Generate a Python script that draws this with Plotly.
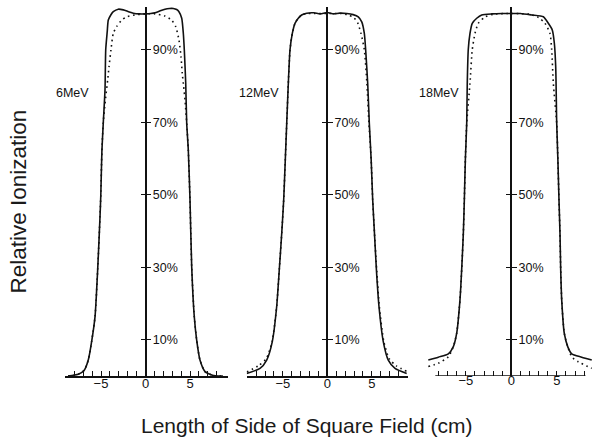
import plotly.graph_objects as go

# ---- beam profiles: off-axis distance (cm) and relative ionization (%) ----
energies = ["6MeV", "12MeV", "18MeV"]

x_6_meas = [-8.7, -7.55, -6.88, -6.43, -6.04, -5.67, -5.37, -5.11, -5.02, -4.9, -4.74, -4.55,
            -4.47, -4.3, -4.18, -3.9, -3.62, -3.06, -2.49, -1.9, -1.37, -0.7, 0, 0.6, 1.07, 1.6,
            2.19, 2.7, 3.12, 3.5, 3.76, 4.07, 4.25, 4.36, 4.52, 4.63, 4.81, 5.0, 5.19, 5.48,
            5.75, 6.12, 6.69, 7.44, 8.15, 8.7]
y_6_meas = [0, 0.5, 1.6, 4.4, 9.7, 16.4, 29.5, 44, 50, 62, 70, 79,
            90, 95, 98.2, 99.6, 100.5, 101.2, 101, 100.5, 100.1, 99.9, 99.9, 100.0, 100.2, 100.7,
            101.2, 101.4, 101.4, 101.1, 100.5, 98.7, 94.5, 90, 80.7, 69.7, 62.3, 48.6, 30.2, 16.4,
            9.9, 4.4, 1.2, 0.3, 0, 0]
x_6_calc = [-8.7, -7.55, -6.88, -6.43, -6.04, -5.67, -5.37, -5.11, -5.02, -4.9, -4.74, -4.47,
            -4.25, -4.1, -3.88, -3.62, -3.24, -2.67, -2.11, -1.18, 0, 1.07, 2.19, 2.94, 3.39,
            3.76, 3.99, 4.13, 4.29, 4.44, 4.63, 4.81, 5.0, 5.19, 5.48, 5.75, 6.12, 6.69, 7.44,
            8.15, 8.7]
y_6_calc = [0, 0.5, 1.6, 4.4, 9.7, 16.4, 29.5, 44, 50, 62, 70, 77,
            81.7, 85.3, 90, 94.5, 96.4, 98.2, 99.1, 99.6, 99.9, 99.9, 99.3, 98.2, 96.4,
            92.7, 88, 83.5, 79.8, 76.1, 69.7, 62.3, 48.6, 30.2, 16.4, 9.9, 4.4, 1.2, 0.3,
            0, 0]

x_12_meas = [-9.06, -7.56, -6.81, -6.18, -5.69, -5.39, -5.12, -4.9, -4.72, -4.56, -4.38, -4.19,
             -3.93, -3.63, -3.26, -2.88, -2.31, -1.5, -0.8, 0, 0.7, 1.4, 2.2, 2.9, 3.48, 3.87,
             4.16, 4.31, 4.54, 4.72, 4.93, 5.1, 5.3, 5.52, 5.81, 6.29, 6.85, 7.61, 8.92]
y_12_meas = [0.7, 2.1, 4.4, 9.5, 19.1, 29.5, 39.4, 48.6, 59.6, 69.7, 80.7, 90,
             94.5, 97.3, 98.7, 99.6, 100.1, 100.2, 99.9, 100.3, 99.9, 100.1, 100.0, 99.7, 99.1, 97.7,
             94.5, 90, 80.7, 69.7, 59.6, 48.6, 39.4, 29.2, 19.1, 9.5, 4.4, 2.1, 0.7]
x_12_calc = [-9.06, -7.75, -6.85, -6.2, -5.69, -5.39, -5.12, -4.9, -4.72, -4.56, -4.38, -4.19,
             -3.93, -3.63, -3.26, -2.88, -2.31, -1.5, 0, 1.5, 2.4, 3.0, 3.4, 3.79, 4.16, 4.45,
             4.68, 4.93, 5.1, 5.3, 5.55, 5.85, 6.35, 6.95, 7.75, 9.0]
y_12_calc = [1.1, 2.8, 4.8, 9.5, 19.1, 29.5, 39.4, 48.6, 59.6, 69.7, 80.7, 90,
             94.5, 97.3, 98.7, 99.6, 100, 100, 100, 100, 99.6, 98.8, 97.5, 94.5, 90, 80.7,
             69.7, 59.6, 48.6, 39.4, 29.2, 19.1, 9.5, 4.8, 2.8, 1.2]

x_18_meas = [-9.12, -8.02, -6.92, -6.37, -6.0, -5.64, -5.45, -5.27, -5.16, -5.05, -4.9, -4.84,
             -4.73, -4.54, -4.29, -3.8, -3.25, -2.15, -1.0, 0, 1.0, 2.24, 3.52, 4.07, 4.51, 4.73,
             4.88, 4.99, 5.12, 5.24, 5.35, 5.43, 5.54, 5.82, 6.2, 6.64, 7.74, 8.84]
y_18_meas = [4.4, 5.2, 6.1, 8.1, 11.8, 21, 29.5, 39.4, 48.6, 59.6, 69.7, 80.7,
             90, 94.5, 97.3, 98.7, 99.6, 99.9, 100, 100, 100, 99.6, 99.1, 97.3, 95.4, 91.8,
             85.3, 69.7, 59.6, 48.6, 39.4, 29.2, 21, 11.8, 8.1, 6.1, 5.2, 4.4]
x_18_calc = [-9.12, -8.02, -6.92, -6.37, -6.0, -5.64, -5.45, -5.27, -5.16, -5.05, -4.9, -4.54,
             -4.29, -3.99, -3.63, -2.92, -2.0, 0, 2.0, 3.0, 3.7, 4.25, 4.44, 4.62, 4.99, 5.12,
             5.24, 5.35, 5.43, 5.54, 5.82, 6.2, 6.64, 7.36, 8.84]
y_18_calc = [2.6, 3.5, 5.3, 8.1, 11.8, 21, 29.5, 39.4, 48.6, 59.6, 69.7, 80.7,
             90, 94.5, 97.3, 99, 99.8, 100, 99.8, 98.9, 97.3, 94.5, 90, 80.7, 69.7, 59.6,
             48.6, 39.4, 29.2, 21, 11.8, 8.1, 5.3, 3.9, 2.1]

y_tick_vals = [10, 30, 50, 70, 90]
y_tick_text = ["10%", "30%", "50%", "70%", "90%"]
x_major_ticks = [-5, 0, 5]
x_minor_ticks = list(range(-8, 9))

profiles = [
    (x_6_meas, y_6_meas, x_6_calc, y_6_calc),
    (x_12_meas, y_12_meas, x_12_calc, y_12_calc),
    (x_18_meas, y_18_meas, x_18_calc, y_18_calc),
]

# ---- page geometry (pixels) ----
W, H = 601, 440
Y_BASE, Y_TOP = 376, 7          # pixel rows of 0 % and top of each panel
Y_RANGE = [0, 101.8]
# (left px, right px, px of x=0, px per cm)
panels = [(65, 228, 145.5, 8.9), (246.7, 408.3, 327.3, 8.9), (428, 592, 511.3, 9.1)]

def px(x):
    return x / W

def py(y):
    return 1 - y / H

FONT = "Liberation Sans, Arial, sans-serif"
INK = "#111111"

fig = go.Figure()
layout = dict(
    width=W, height=H, autosize=False,
    margin=dict(l=0, r=0, t=0, b=0),
    paper_bgcolor="white", plot_bgcolor="rgba(0,0,0,0)",
    showlegend=False,
    font=dict(family=FONT, size=12.5, color=INK),
    annotations=[], shapes=[],
)

for i, ((xm, ym, xc, yc), (left, right, zero, scale)) in enumerate(zip(profiles, panels)):
    n = i + 1
    xa = "x" if n == 1 else f"x{n}"
    ya = "y" if n == 1 else f"y{n}"
    ya_left = f"y{n + 3}"
    xr = [(left - zero) / scale, (right - zero) / scale]
    draw_base_as_shape = (n == 3)

    fig.add_trace(go.Scatter(x=xm, y=ym, mode="lines", xaxis=xa, yaxis=ya,
                             line=dict(color=INK, width=1.6, shape="spline", smoothing=0.6)))
    fig.add_trace(go.Scatter(x=xc, y=yc, mode="lines", xaxis=xa, yaxis=ya,
                             line=dict(color=INK, width=1.6, dash="1.6px,3.6px",
                                       shape="spline", smoothing=0.6)))
    # empty trace so the left-hand tick half of the axis is drawn
    fig.add_trace(go.Scatter(x=[None], y=[None], xaxis=xa, yaxis=ya_left,
                             showlegend=False, hoverinfo="skip"))

    layout[("xaxis" if n == 1 else f"xaxis{n}")] = dict(
        domain=[px(left), px(right)], range=xr, anchor=ya,
        showgrid=False, zeroline=False,
        showline=not draw_base_as_shape, linecolor=INK, linewidth=1.5,
        tickmode="array", tickvals=x_major_ticks, ticktext=["\u22125", "0", "5"],
        ticks="inside", ticklen=5, tickwidth=1.2, tickcolor=INK,
        minor=dict(tickmode="array", tickvals=x_minor_ticks, ticks="inside",
                   ticklen=5, tickwidth=1.2, tickcolor=INK),
        ticklabelstandoff=-5,
        tickfont=dict(family=FONT, size=13, color=INK),
    )
    ypos = px(zero)
    common_y = dict(
        domain=[py(Y_BASE), py(Y_TOP)], range=Y_RANGE,
        anchor="free", position=ypos,
        showgrid=False, zeroline=False,
        tickmode="array", tickvals=y_tick_vals,
        ticks="outside", ticklen=5, tickwidth=1.4, tickcolor=INK,
    )
    layout[("yaxis" if n == 1 else f"yaxis{n}")] = dict(
        common_y, side="right", ticktext=y_tick_text,
        showline=True, linecolor=INK, linewidth=1.6,
        ticklabelstandoff=-1,
        tickfont=dict(family=FONT, size=12.5, color=INK),
    )
    layout[f"yaxis{n + 3}"] = dict(
        common_y, side="left", overlaying=ya, showline=False, showticklabels=False,
    )
    if draw_base_as_shape:
        layout["shapes"].append(dict(
            type="line", xref=xa, yref=ya, x0=-8.35, x1=8.15, y0=0, y1=0,
            line=dict(color=INK, width=1.5)))

# energy labels beside each profile
for label, lx in zip(energies, [54, 236.5, 417]):
    layout["annotations"].append(dict(
        text=label, xref="paper", yref="paper", x=px(lx), y=py(93.3),
        xanchor="left", yanchor="middle", showarrow=False,
        font=dict(family=FONT, size=12.5, color=INK)))

layout["annotations"].append(dict(
    text="Length of Side of Square Field (cm)", xref="paper", yref="paper",
    x=px(306.5), y=py(425), xanchor="center", yanchor="middle", showarrow=False,
    font=dict(family=FONT, size=21, color="#1a1a1a")))
layout["annotations"].append(dict(
    text="Relative Ionization", xref="paper", yref="paper",
    x=px(17.5), y=py(202), xanchor="center", yanchor="middle", showarrow=False,
    textangle=-90, font=dict(family=FONT, size=22.5, color="#1a1a1a")))

fig.update_layout(**layout)
fig.write_html("out.html")
